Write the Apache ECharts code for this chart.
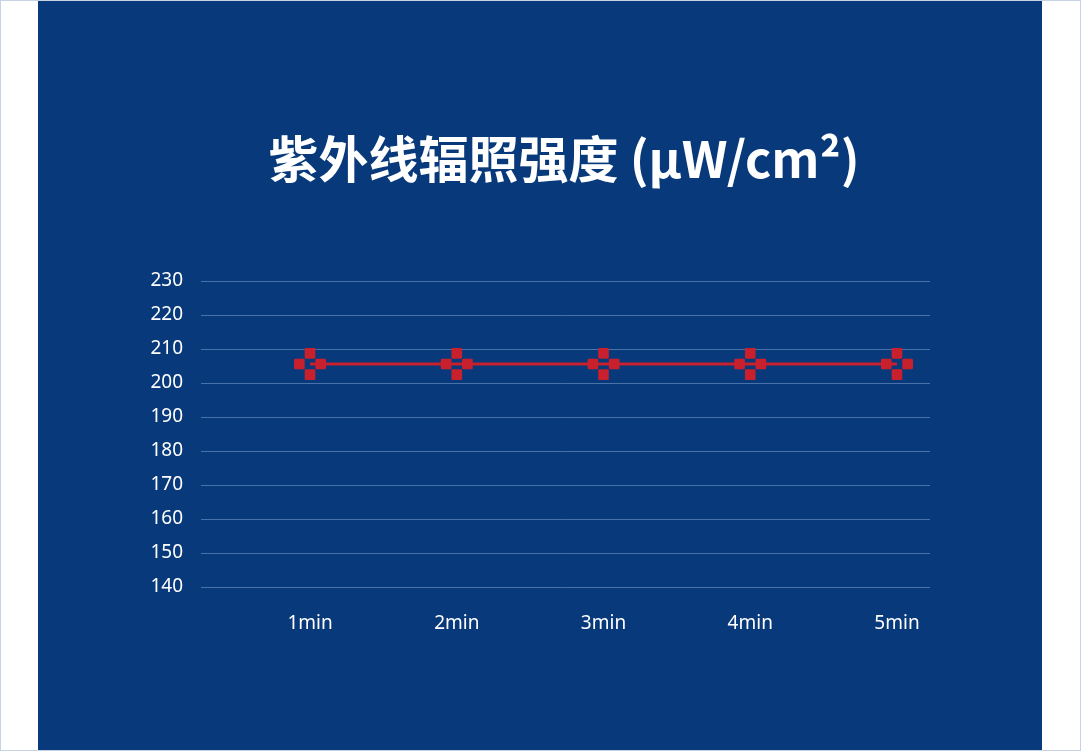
<!DOCTYPE html>
<html>
<head>
<meta charset="utf-8">
<title>紫外线辐照强度</title>
<script src="https://cdn.jsdelivr.net/npm/echarts@6/dist/echarts.min.js"></script>
<style>
  html, body { margin: 0; padding: 0; background: #fff; }
  #main { position: absolute; left: 38px; top: 0; width: 1004px; height: 751px; }
  #frame { position: absolute; left: 0; top: 0; width: 1081px; height: 751px;
           box-sizing: border-box; border: 1px solid #c6d3e5; pointer-events: none; }
</style>
</head>
<body>
<div id="main"></div>
<div id="frame"></div>
<script>
// 数据
var categories = ['1min', '2min', '3min', '4min', '5min'];
var positions = [1, 2, 3, 4, 5];
var values = [205.6, 205.6, 205.6, 205.6, 205.6];
var yTicks = [140, 150, 160, 170, 180, 190, 200, 210, 220, 230];

// 十字形标记（四个小圆角方块）
var crossSymbol = 'path://' +
  'M11,0h8q1,0 1,1v8q0,1 -1,1h-8q-1,0 -1,-1v-8q0,-1 1,-1z ' +
  'M1,10h8q1,0 1,1v8q0,1 -1,1h-8q-1,0 -1,-1v-8q0,-1 1,-1z ' +
  'M21,10h8q1,0 1,1v8q0,1 -1,1h-8q-1,0 -1,-1v-8q0,-1 1,-1z ' +
  'M11,20h8q1,0 1,1v8q0,1 -1,1h-8q-1,0 -1,-1v-8q0,-1 1,-1z';

var seriesData = positions.map(function (p, i) { return [p, values[i]]; });

var myChart = echarts.init(document.getElementById('main'));
var option = {
  backgroundColor: '#08397a',
  title: {
    text: '紫外线辐照强度 (μW/cm²)',
    left: 521,
    top: 129,
    textAlign: 'center',
    textStyle: {
      color: '#ffffff',
      fontSize: 50,
      fontWeight: 'bold',
      fontFamily: 'Noto Sans CJK SC'
    }
  },
  grid: {
    left: 163,
    right: 112,
    top: 281,
    bottom: 164,
    containLabel: false
  },
  xAxis: {
    type: 'value',
    min: 0.257,
    max: 5.225,
    axisLine: { show: false },
    axisTick: { show: false },
    splitLine: { show: false },
    axisLabel: {
      customValues: positions,
      color: '#ffffff',
      fontSize: 19,
      fontFamily: 'Noto Sans',
      margin: 27,
      formatter: function (v) { return categories[Math.round(v) - 1]; }
    }
  },
  yAxis: {
    type: 'value',
    min: yTicks[0],
    max: yTicks[yTicks.length - 1],
    interval: 10,
    axisLine: { show: false },
    axisTick: { show: false },
    axisLabel: {
      color: '#ffffff',
      fontSize: 19,
      fontFamily: 'Noto Sans',
      margin: 18
    },
    splitLine: {
      lineStyle: { color: '#4a72aa', width: 1 }
    }
  },
  series: [
    {
      type: 'line',
      data: seriesData,
      symbol: crossSymbol,
      symbolSize: 32,
      showAllSymbol: true,
      lineStyle: { color: '#c8202c', width: 3 },
      itemStyle: { color: '#c8202c' }
    }
  ]
};
myChart.setOption(option);
window.addEventListener('resize', function () {
  myChart.resize();
});
</script>
</body>
</html>
